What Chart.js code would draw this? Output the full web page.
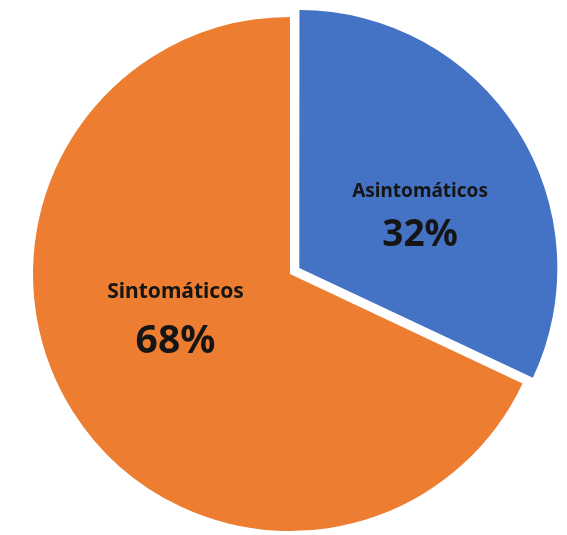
<!DOCTYPE html>
<html>
<head>
<meta charset="utf-8">
<script src="https://cdn.jsdelivr.net/npm/chart.js@4/dist/chart.umd.min.js"></script>
<style>
  html, body { margin: 0; padding: 0; background: #ffffff; }
  #wrap { width: 567px; height: 535px; }
</style>
</head>
<body>
<div id="wrap"><canvas id="c" width="567" height="535"></canvas></div>
<script>
// Symptom distribution
const categories = ['Asintomáticos', 'Sintomáticos'];
const shares = [32, 68];
const sliceColors = ['#4472C4', '#ED7D31'];
// Arc offset (Chart.js translates the slice by a quarter of this value)
const sliceOffsets = [44, 0];

// Label placement relative to each slice's centroid: [dx, nameDy, pctDy]
const labelNudges = [[3, 4, 53], [-6, -45, 10]];
const nameFonts = ['bold 19px "Noto Sans", "Open Sans", sans-serif', 'bold 21px "Noto Sans", "Open Sans", sans-serif'];
const pctFonts = ['bold 37px "Noto Sans", "Open Sans", sans-serif', 'bold 39px "Noto Sans", "Open Sans", sans-serif'];

const sliceLabels = {
  id: 'sliceLabels',
  afterDatasetsDraw(chart) {
    const ctx = chart.ctx;
    const meta = chart.getDatasetMeta(0);
    const data = chart.data.datasets[0].data;
    const total = data.reduce((a, b) => a + b, 0);
    ctx.save();
    ctx.fillStyle = '#151515';
    ctx.textAlign = 'center';
    ctx.textBaseline = 'alphabetic';
    meta.data.forEach((arc, i) => {
      const p = arc.tooltipPosition();
      const n = labelNudges[i];
      const pct = Math.round(data[i] / total * 100) + '%';
      ctx.font = nameFonts[i];
      ctx.fillText(chart.data.labels[i], p.x + n[0], p.y + n[1]);
      ctx.font = pctFonts[i];
      ctx.fillText(pct, p.x + n[0], p.y + n[2]);
    });
    ctx.restore();
  }
};

new Chart(document.getElementById('c'), {
  type: 'pie',
  data: {
    labels: categories,
    datasets: [{
      data: shares,
      backgroundColor: sliceColors,
      offset: sliceOffsets,
      borderWidth: 0,
      radius: 257
    }]
  },
  options: {
    responsive: false,
    animation: false,
    events: [],
    layout: { padding: { left: 13, top: 13, right: 0, bottom: 0 } },
    plugins: {
      legend: { display: false },
      tooltip: { enabled: false },
      title: { display: false }
    }
  },
  plugins: [sliceLabels]
});
</script>
</body>
</html>
